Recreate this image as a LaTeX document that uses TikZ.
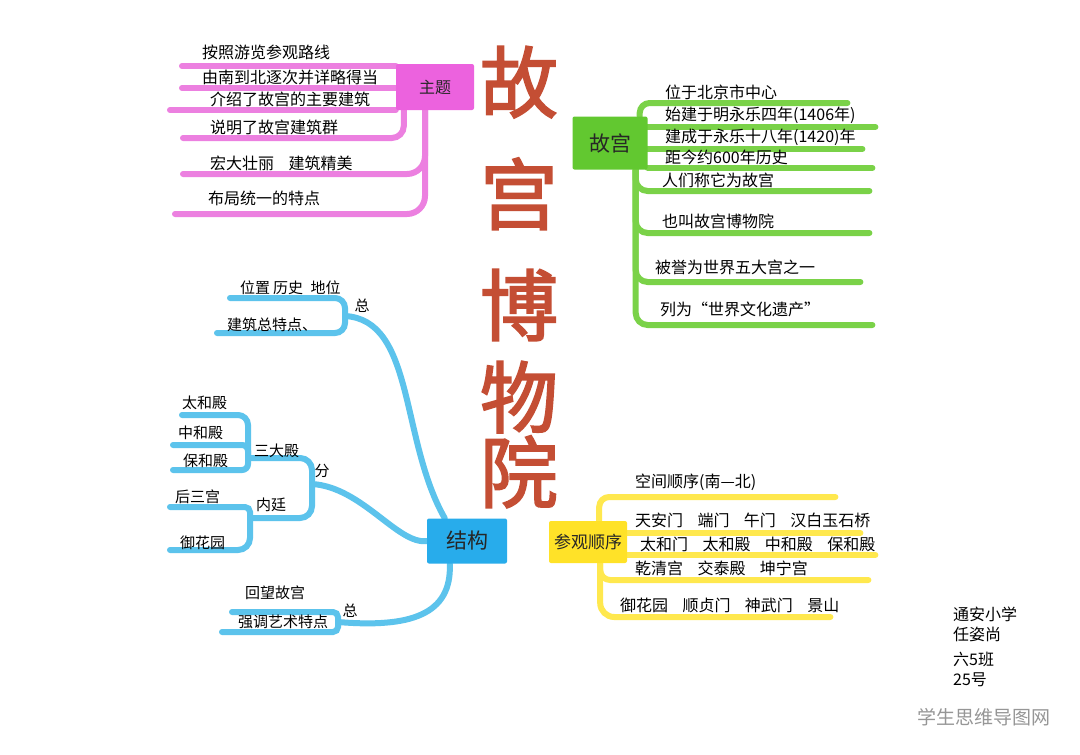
\documentclass[tikz,border=0pt]{standalone}
\usepackage{fontspec}
\setmainfont{Noto Sans CJK SC}
\newfontfamily\mmtitlefont{Noto Sans CJK SC}[FakeBold=2.2]
\usetikzlibrary{calc,backgrounds}
\definecolor{mmpink}{RGB}{236,98,222}
\definecolor{mmpinkline}{RGB}{236,128,224}
\definecolor{mmgreen}{RGB}{98,200,48}
\definecolor{mmgreenline}{RGB}{122,210,72}
\definecolor{mmblue}{RGB}{40,172,235}
\definecolor{mmblueline}{RGB}{92,195,236}
\definecolor{mmyellow}{RGB}{255,226,40}
\definecolor{mmyellowline}{RGB}{255,232,78}
\definecolor{mmtitle}{RGB}{196,78,52}
\definecolor{mmgray}{RGB}{150,150,150}
\newcommand{\mmgap}{\hspace{0.9em}}

\begin{document}
\begin{tikzpicture}[x=1pt,y=-1pt,
  hub/.style={fill=#1,rounded corners=2pt,inner sep=3pt,text=black!85},
  leaf/.style={anchor=south west,inner ysep=3pt,inner xsep=12pt,text width=#1,
               align=left,font=\fontsize{16}{19}\selectfont},
  leaf/.default=120pt,
  twig/.style={anchor=south west,inner ysep=3pt,inner xsep=6pt,
               font=\fontsize{15}{18}\selectfont},
  tag/.style={inner sep=1pt,font=\fontsize{15}{18}\selectfont},
  pkline/.style={draw=mmpinkline,line width=6pt,line cap=round,rounded corners=#1},
  pkline/.default=12pt,
  gnline/.style={draw=mmgreenline,line width=6pt,line cap=round,rounded corners=#1},
  gnline/.default=12pt,
  blline/.style={draw=mmblueline,line width=6pt,line cap=round,rounded corners=#1},
  blline/.default=12pt,
  ywline/.style={draw=mmyellowline,line width=6pt,line cap=round,rounded corners=#1},
  ywline/.default=12pt]
  \useasboundingbox (0,0) rectangle (1080,755);
  \begin{scope}[on background layer]
    \fill[white] (0,0) rectangle (1080,755);
  \end{scope}

  %% Title
  \node[font=\fontsize{78}{100}\selectfont\mmtitlefont,text=mmtitle,align=center,
        inner sep=0pt,anchor=north] (mingcheng) at (519,46)
        {故\\[12pt]宫\\[11pt]博\\[-8pt]物\\[-25pt]院};

  %% Hubs
  \node[hub=mmpink,minimum width=78pt,minimum height=46pt,
        font=\fontsize{16}{19}\selectfont] (zhuti) at (435,87) {主题};
  \node[hub=mmgreen,minimum width=75pt,minimum height=53pt,
        font=\fontsize{21}{24}\selectfont] (gugong) at (610,143) {故宫};
  \node[hub=mmblue,minimum width=80pt,minimum height=45pt,
        font=\fontsize{21}{24}\selectfont] (jiegou) at (467,541) {结构};
  \node[hub=mmyellow,minimum width=78pt,minimum height=42pt,
        font=\fontsize{17}{20}\selectfont] (canguan) at (588,542) {参观顺序};
  \coordinate (zt) at ($(zhuti.south)+(-10,0)$);
  \coordinate (gt) at ($(gugong.south east)+(-12,0)$);
  \coordinate (yt) at ($(canguan.south east)+(-27,0)$);

  %% Pink: 主题
  \node[leaf,inner xsep=20pt,inner ysep=6pt] (p1) at (182,66) {\mbox{按照游览参观路线}};
  \node[leaf,inner xsep=20pt] (p2) at (182,88) {\mbox{由南到北逐次并详略得当}};
  \node[leaf,inner xsep=40pt] (p3) at (170,110) {\mbox{介绍了故宫的主要建筑}};
  \node[leaf,inner xsep=27pt] (p4) at (183,138) {\mbox{说明了故宫建筑群}};
  \node[leaf,inner xsep=27pt] (p5) at (183,174) {\mbox{宏大壮丽\mmgap 建筑精美}};
  \node[leaf,inner xsep=33pt,inner ysep=8pt] (p6) at (175,214) {\mbox{布局统一的特点}};

  %% Green: 故宫
  \node[leaf=172pt,inner xsep=10pt] (g1) at (655,103) {\mbox{位于北京市中心}};
  \node[leaf=195pt,inner xsep=15pt] (g2) at (650,127) {\mbox{始建于明永乐四年(1406年)}};
  \node[leaf=182pt,inner xsep=15pt] (g3) at (650,149) {\mbox{建成于永乐十八年(1420)年}};
  \node[leaf=192pt,inner xsep=15pt] (g4) at (650,168) {\mbox{距今约600年历史}};
  \node[leaf=195pt,inner xsep=12pt] (g5) at (650,191) {\mbox{人们称它为故宫}};
  \node[leaf=195pt,inner xsep=12pt,inner ysep=4pt] (g6) at (650,233) {\mbox{也叫故宫博物院}};
  \node[leaf=195pt,inner xsep=10pt,inner ysep=7pt] (g7) at (645,282) {\mbox{被誉为世界五大宫之一}};
  \node[leaf=197pt,inner xsep=15pt,inner ysep=8pt] (g8) at (645,325) {\mbox{列为“世界文化遗产”}};

  %% Yellow: 参观顺序
  \node[leaf=177pt,inner xsep=23pt,inner ysep=6pt] (y1) at (612,497) {\mbox{空间顺序(南—北)}};
  \node[leaf=220pt,inner xsep=5pt,inner ysep=5pt] (y2) at (630,533)
        {\mbox{天安门\mmgap 端门\mmgap 午门\mmgap 汉白玉石桥}};
  \node[leaf=225pt,inner xsep=10pt] (y3) at (630,555)
        {\mbox{太和门\mmgap 太和殿\mmgap 中和殿\mmgap 保和殿}};
  \node[leaf=213pt,inner xsep=20pt,inner ysep=4pt] (y4) at (615,580)
        {\mbox{乾清宫\mmgap 交泰殿\mmgap 坤宁宫}};
  \node[leaf=198pt,inner xsep=12pt,inner ysep=4pt] (y5) at (608,617)
        {\mbox{御花园\mmgap 顺贞门\mmgap 神武门\mmgap 景山}};

  %% Blue: 结构
  \coordinate (zj1) at (345,316);
  \coordinate (zj2) at (312,484);
  \coordinate (zj3) at (338,622);
  \node[tag] (zongA) at (362,306) {总};
  \node[tag] (fen) at (322,471) {分};
  \node[tag] (zongB) at (350,611) {总};
  \node[twig,inner xsep=10pt] (b1) at (230,298) {位置\hspace{0.2em}历史\hspace{0.5em}地位};
  \node[twig,inner xsep=10pt,inner ysep=1pt] (b2) at (217,333) {建筑总特点、};
  \node[twig,inner xsep=6pt,inner ysep=0pt] (sdd) at (248,458) {三大殿};
  \node[twig,inner xsep=6pt,inner ysep=6pt] (nt) at (250,518) {内廷};
  \node[twig,inner xsep=0pt,inner ysep=5pt] (t1) at (182,415) {太和殿};
  \node[twig,inner xsep=5pt,inner ysep=5pt] (t2) at (173,445) {中和殿};
  \node[twig,inner xsep=10pt,inner ysep=2pt] (t3) at (173,470) {保和殿};
  \node[twig,inner xsep=5pt,inner ysep=3pt] (h1) at (170,507) {后三宫};
  \node[twig,inner xsep=10pt,inner ysep=0pt] (h2) at (170,550) {御花园};
  \node[twig,inner xsep=13pt,inner ysep=12pt] (hw) at (232,612) {回望故宫};
  \node[twig,inner xsep=16pt,inner ysep=3pt] (qd) at (222,632) {强调艺术特点};

  %% Signature and watermark
  \node[anchor=north west,align=left,inner sep=0pt,font=\fontsize{16}{20}\selectfont]
        (qianming) at (953,607) {通安小学\\任姿尚\\[5pt]六5班\\25号};
  \node[text=mmgray,font=\fontsize{19}{22}\selectfont] (shuiyin) at (984,717) {学生思维导图网};

  %% Connectors
  \begin{scope}[on background layer]
    \draw[pkline] (p1.south west) -- (p1.south west -| zhuti.west);
    \draw[pkline] (p2.south west) -- (p2.south west -| zhuti.west);
    \draw[pkline] (p3.south west) -- (p3.south west -| zhuti.west);
    \draw[pkline=12pt] (p4.south west) -| ($(zhuti.south west)+(8,0)$);
    \draw[pkline=18pt] (p5.south west) -| (zt);
    \draw[pkline=18pt] (p6.south west) -| (zt);

    \draw[gnline=10pt] ($(gugong.north east)+(-8,0)$) |- (g1.south east);
    \draw[gnline] (g2.south west -| gugong.east) -- (g2.south east);
    \draw[gnline] (g3.south west -| gugong.east) -- (g3.south east);
    \draw[gnline] (g4.south west -| gugong.east) -- (g4.south east);
    \draw[gnline] (gt) |- (g5.south east);
    \draw[gnline] (gt) |- (g6.south east);
    \draw[gnline] (gt) |- (g7.south east);
    \draw[gnline] (gt) |- (g8.south east);

    \draw[ywline=10pt] ($(canguan.north east)+(-28,0)$) |- (y1.south east);
    \draw[ywline] (y2.south west -| canguan.east) -- (y2.south east);
    \draw[ywline] (y3.south west -| canguan.east) -- (y3.south east);
    \draw[ywline=10pt] (yt) |- (y4.south east);
    \draw[ywline=14pt] (yt) |- (y5.south east);

    \draw[blline] ($(jiegou.north west)+(18,0)$) .. controls (400,440) and (415,320) .. (zj1);
    \draw[blline=10pt] (b1.south west) -| (zj1);
    \draw[blline=10pt] (b2.south west) -| (zj1);
    \draw[blline] (jiegou.west) .. controls (398,545) and (362,487) .. (zj2);
    \draw[blline=12pt] (sdd.south west) -| (zj2);
    \draw[blline=12pt] (nt.south west) -| (zj2);
    \draw[blline=10pt] (t1.south west) -| (sdd.south west);
    \draw[blline=6pt] (t2.south west) -| (sdd.south west);
    \draw[blline=6pt] (t3.south west) -| (sdd.south west);
    \draw[blline=5pt] (h1.south west) -| (nt.south west);
    \draw[blline=12pt] (h2.south west) -| (nt.south west);
    \draw[blline] ($(jiegou.south west)+(23,0)$) .. controls (452,615) and (410,628) .. (zj3);
    \draw[blline=5pt] (hw.south west) -| (zj3);
    \draw[blline=5pt] (qd.south west) -| (zj3);
  \end{scope}
\end{tikzpicture}
\end{document}
